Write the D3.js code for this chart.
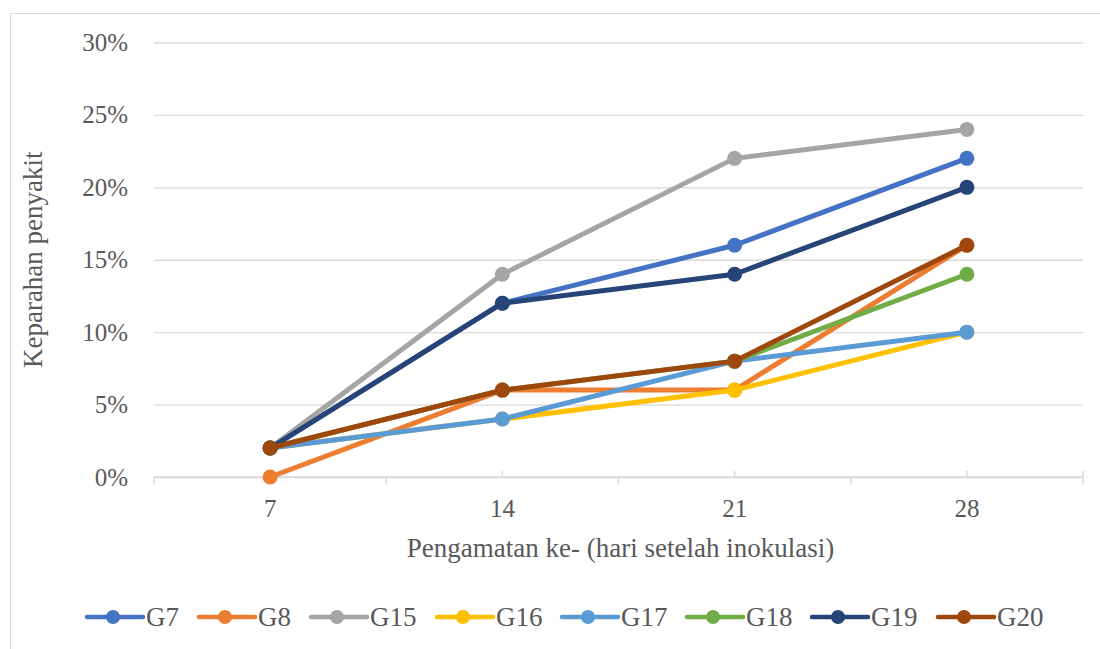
<!DOCTYPE html>
<html>
<head>
<meta charset="utf-8">
<script src="https://cdn.jsdelivr.net/npm/d3@7"></script>
<style>
  html, body { margin: 0; padding: 0; background: #fff; }
  svg text { font-family: "Liberation Serif", "Times New Roman", serif; fill: #595959; }
</style>
</head>
<body>
<div id="chart"></div>
<script>
// Data
var days = ["7", "14", "21", "28"];
var seriesNames = ["G7", "G8", "G15", "G16", "G17", "G18", "G19", "G20"];
var seriesColors = ["#4472C4", "#ED7D31", "#A5A5A5", "#FFC000", "#5B9BD5", "#70AD47", "#264478", "#9E480E"];
var g7  = [0.02, 0.12, 0.16, 0.22];
var g8  = [0.00, 0.06, 0.06, 0.16];
var g15 = [0.02, 0.14, 0.22, 0.24];
var g16 = [0.02, 0.04, 0.06, 0.10];
var g17 = [0.02, 0.04, 0.08, 0.10];
var g18 = [0.02, 0.06, 0.08, 0.14];
var g19 = [0.02, 0.12, 0.14, 0.20];
var g20 = [0.02, 0.06, 0.08, 0.16];
var yTicks = [0, 0.05, 0.10, 0.15, 0.20, 0.25, 0.30];

var seriesValues = [g7, g8, g15, g16, g17, g18, g19, g20];
var series = seriesNames.map(function (name, i) {
    return { name: name, color: seriesColors[i], values: seriesValues[i] };
});

var W = 1100, H = 649;
var margin = { top: 42.5, right: 17, bottom: 172, left: 154 };
var width = W - margin.left - margin.right;
var height = H - margin.top - margin.bottom;

var root = d3.select("#chart").append("svg")
    .attr("width", W)
    .attr("height", H);

// Chart area border
root.append("rect")
    .attr("x", 10.5).attr("y", 13.5)
    .attr("width", W).attr("height", H)
    .attr("fill", "none")
    .attr("stroke", "#d9d9d9")
    .attr("stroke-width", 1);

var svg = root.append("g")
    .attr("transform", "translate(" + margin.left + "," + margin.top + ")");

var x = d3.scaleBand().domain(days).range([0, width]);
var y = d3.scaleLinear().domain([0, 0.30]).range([height, 0]);

// Grid
svg.append("g")
    .attr("class", "grid")
    .call(d3.axisLeft(y).tickValues(yTicks).tickSize(-width).tickFormat(""))
    .call(function (g) {
        g.select(".domain").remove();
        g.selectAll("line").attr("stroke", "#d9d9d9").attr("stroke-width", 1.3);
    });

// Y labels
svg.append("g")
    .call(d3.axisLeft(y).tickValues(yTicks).tickSize(0).tickPadding(26)
        .tickFormat(d3.format(".0%")))
    .call(function (g) {
        g.select(".domain").remove();
        g.selectAll("text").attr("font-size", "25px").attr("fill", "#595959");
    });

// X axis line with ticks at band edges (down) and centers (up)
var xAxis = svg.append("g").attr("transform", "translate(0," + height + ")");
xAxis.append("line")
    .attr("x1", 0).attr("x2", width)
    .attr("stroke", "#d9d9d9").attr("stroke-width", 1.5);
var edges = days.map(function (d) { return x(d); }).concat([width]);
xAxis.selectAll(".edge").data(edges).enter().append("line")
    .attr("x1", function (d) { return d; }).attr("x2", function (d) { return d; })
    .attr("y1", 0).attr("y2", 7.5)
    .attr("stroke", "#d9d9d9").attr("stroke-width", 1.5);
xAxis.selectAll(".mid").data(days.concat(["end"])).enter().append("line")
    .attr("x1", function (d) { return d === "end" ? width : x(d) + x.bandwidth() / 2; })
    .attr("x2", function (d) { return d === "end" ? width : x(d) + x.bandwidth() / 2; })
    .attr("y1", 0).attr("y2", -6)
    .attr("stroke", "#d9d9d9").attr("stroke-width", 1.5);
xAxis.selectAll(".lbl").data(days).enter().append("text")
    .attr("x", function (d) { return x(d) + x.bandwidth() / 2; })
    .attr("y", 40)
    .attr("text-anchor", "middle")
    .attr("font-size", "25px")
    .text(function (d) { return d; });

// Axis titles
root.append("text")
    .attr("x", margin.left + width / 2 + 2)
    .attr("y", 557)
    .attr("text-anchor", "middle")
    .attr("font-size", "27px")
    .text("Pengamatan ke- (hari setelah inokulasi)");

root.append("text")
    .attr("transform", "translate(42," + (margin.top + height / 2) + ") rotate(-90)")
    .attr("text-anchor", "middle")
    .attr("font-size", "27px")
    .text("Keparahan penyakit");

// Lines
var line = d3.line()
    .x(function (d, i) { return x(days[i]) + x.bandwidth() / 2; })
    .y(function (d) { return y(d); });

var sg = svg.selectAll(".series").data(series).enter().append("g").attr("class", "series");
sg.append("path")
    .attr("d", function (s) { return line(s.values); })
    .attr("fill", "none")
    .attr("stroke", function (s) { return s.color; })
    .attr("stroke-width", 5)
    .attr("stroke-linejoin", "round")
    .attr("stroke-linecap", "round");
sg.selectAll("circle").data(function (s) {
        return s.values.map(function (v, i) { return { v: v, i: i, color: s.color }; });
    })
    .enter().append("circle")
    .attr("cx", function (d) { return x(days[d.i]) + x.bandwidth() / 2; })
    .attr("cy", function (d) { return y(d.v); })
    .attr("r", 7.5)
    .attr("fill", function (d) { return d.color; });

// Legend
var legendX = [87, 199, 311, 437, 562, 687, 812, 938];
var lg = root.selectAll(".legend").data(series).enter().append("g")
    .attr("transform", function (d, i) { return "translate(" + legendX[i] + ",617)"; });
lg.append("line")
    .attr("x1", 0).attr("x2", 56)
    .attr("stroke", function (d) { return d.color; })
    .attr("stroke-width", 4.5)
    .attr("stroke-linecap", "round");
lg.append("circle")
    .attr("cx", 26).attr("r", 7)
    .attr("fill", function (d) { return d.color; });
lg.append("text")
    .attr("x", 59).attr("y", 9)
    .attr("font-size", "27px")
    .text(function (d) { return d.name; });
</script>
</body>
</html>
